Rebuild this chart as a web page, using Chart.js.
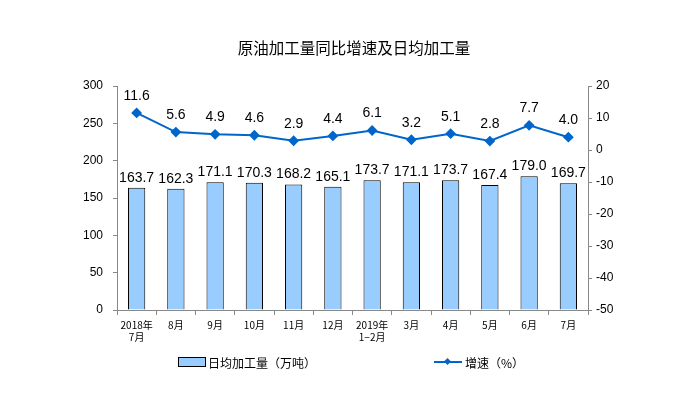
<!DOCTYPE html>
<html>
<head>
<meta charset="utf-8">
<script src="https://cdn.jsdelivr.net/npm/chart.js@4/dist/chart.umd.min.js"></script>
<style>
  body { margin: 0; background: #fff; }
  #wrap { position: relative; width: 689px; height: 397px; }
  #title {
    position: absolute; left: 0; top: 36px; width: 708px; text-align: center;
    font: 15.5px "Noto Sans CJK SC", sans-serif; color: #000;
  }
  .leg { position: absolute; top: 354px; font: 12px "Noto Sans CJK SC", sans-serif; color: #000; }
  .box { position: absolute; width: 26px; height: 8px; background: #99CCFF; border: 1px solid #000; }
  .ln { position: absolute; width: 28px; height: 2px; background: #0066CC; }
  .dia { position: absolute; width: 5px; height: 5px; background: #0066CC; transform: rotate(45deg); }
</style>
</head>
<body>
<div id="wrap">
  <canvas id="chart" width="689" height="397"></canvas>
  <div id="title">原油加工量同比增速及日均加工量</div>
  <div class="box" style="left:178px; top:357px;"></div>
  <div class="leg" style="left:208px;">日均加工量（万吨）</div>
  <div class="ln" style="left:434px; top:361px;"></div>
  <div class="dia" style="left:445px; top:359px;"></div>
  <div class="leg" style="left:465px;">增速（%）</div>
</div>
<script>
const months = [["2018年", "7月"], "8月", "9月", "10月", "11月", "12月", ["2019年", "1−2月"], "3月", "4月", "5月", "6月", "7月"];
const dailyOutput = [163.7, 162.3, 171.1, 170.3, 168.2, 165.1, 173.7, 171.1, 173.7, 167.4, 179.0, 169.7];
const growthRate = [11.6, 5.6, 4.9, 4.6, 2.9, 4.4, 6.1, 3.2, 5.1, 2.8, 7.7, 4.0];

// value labels above bars and points
const valueLabels = {
    id: "valueLabels",
    afterDatasetsDraw(chart) {
        const ctx = chart.ctx;
        ctx.save();
        ctx.font = "14px 'Liberation Sans', Arial, sans-serif";
        ctx.fillStyle = "#000";
        ctx.textAlign = "center";
        ctx.textBaseline = "bottom";
        chart.getDatasetMeta(1).data.forEach((el, i) => {
            ctx.fillText(dailyOutput[i].toFixed(1), el.x, el.y - 3);
        });
        chart.getDatasetMeta(0).data.forEach((el, i) => {
            ctx.fillText(growthRate[i].toFixed(1), el.x, el.y - 10);
        });
        ctx.restore();
    }
};

const ctx = document.getElementById("chart").getContext("2d");
new Chart(ctx, {
    data: {
        labels: months,
        datasets: [
            {
                type: "line",
                label: "增速（%）",
                data: growthRate,
                yAxisID: "y1",
                borderColor: "#0066CC",
                backgroundColor: "#0066CC",
                borderWidth: 2,
                pointStyle: "rectRot",
                pointRadius: 4,
                tension: 0,
                order: 0
            },
            {
                type: "bar",
                label: "日均加工量（万吨）",
                data: dailyOutput,
                yAxisID: "y",
                backgroundColor: "#99CCFF",
                borderColor: "#000",
                borderWidth: 1,
                barPercentage: 0.44,
                categoryPercentage: 1,
                order: 1
            }
        ]
    },
    options: {
        responsive: false,
        animation: false,
        layout: { padding: { top: 86, left: 0, right: 0, bottom: 0 } },
        plugins: {
            legend: { display: false },
            tooltip: { enabled: false }
        },
        scales: {
            x: {
                afterFit: s => { s.height = 87; },
                grid: { offset: true, drawOnChartArea: false, tickLength: 5, color: "#888" },
                border: { color: "#888" },
                ticks: {
                    maxRotation: 0, autoSkip: false, padding: 4,
                    font: { family: "Noto Sans CJK SC", size: 10 }, color: "#000"
                }
            },
            y: {
                position: "left",
                min: 0, max: 300,
                afterFit: s => { s.width = 117; },
                grid: { drawOnChartArea: false, tickLength: 4, color: "#888" },
                border: { color: "#888" },
                ticks: { stepSize: 50, padding: 10, font: { family: "Liberation Sans", size: 12 }, color: "#000" }
            },
            y1: {
                position: "right",
                min: -50, max: 20,
                afterFit: s => { s.width = 101; },
                grid: { drawOnChartArea: false, tickLength: 4, color: "#888" },
                border: { color: "#888" },
                ticks: { stepSize: 10, padding: 4, font: { family: "Liberation Sans", size: 12 }, color: "#000" }
            }
        }
    },
    plugins: [valueLabels]
});
</script>
</body>
</html>
